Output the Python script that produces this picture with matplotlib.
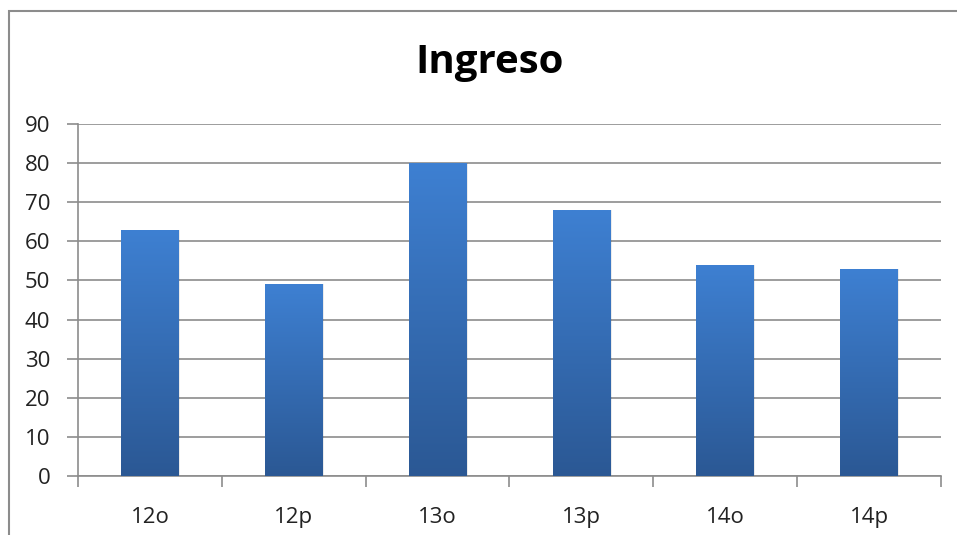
import numpy as np
import matplotlib
matplotlib.use("Agg")
from matplotlib import pyplot as plt
from matplotlib.patches import Rectangle
from matplotlib.colors import LinearSegmentedColormap

# Ingreso por periodo
periodos = ['12o', '12p', '13o', '13p', '14o', '14p']
ingreso = [63, 49, 80, 68, 54, 53]
y_ticks = list(range(0, 100, 10))

plt.rcParams['font.family'] = ['Open Sans', 'DejaVu Sans']

fig = plt.figure(figsize=(9.57, 5.35), dpi=100)

# Outer chart border (cropped at right and bottom)
fig.patches.append(Rectangle((9 / 957, -0.05), 1.05, 1 - 11 / 535 + 0.05,
                             transform=fig.transFigure, fill=False,
                             edgecolor='#8c8c8c', linewidth=1.5))

ax = fig.add_axes([78 / 957, 1 - 476 / 535, (941 - 78) / 957, (476 - 124) / 535])

x = np.arange(len(periodos))
bars = ax.bar(x, ingreso, width=0.40, color='none', zorder=3)

# Vertical gradient fill for each bar
grad_cmap = LinearSegmentedColormap.from_list('azul', ['#2b5894', '#3e80d2'])
grad = np.linspace(0, 1, 256).reshape(-1, 1)
for b in bars:
    x0, y0 = b.get_x(), b.get_y()
    w, h = b.get_width(), b.get_height()
    # soft shadow on the right side
    ax.add_patch(Rectangle((x0 + 0.01, y0), w, h, facecolor='#000000',
                           alpha=0.08, edgecolor='none', zorder=2))
    im = ax.imshow(grad, cmap=grad_cmap, aspect='auto', origin='lower',
                   extent=(x0, x0 + w, y0, y0 + h), zorder=3)
    im.set_clip_path(b)

ax.set_xlim(-0.5, len(periodos) - 0.5)
ax.set_ylim(0, 90)
ax.set_yticks(y_ticks)
ax.set_yticklabels([str(v) for v in y_ticks])
ax.yaxis.grid(True, color='#8c8c8c', linewidth=1.2, zorder=0)
ax.set_axisbelow(True)

# Category labels centered, tick marks on the boundaries
ax.set_xticks(x)
ax.set_xticklabels(periodos)
ax.set_xticks(np.arange(len(periodos) + 1) - 0.5, minor=True)
ax.tick_params(axis='x', which='major', length=0, pad=22, labelsize=16, labelcolor='#222222')
ax.tick_params(axis='x', which='minor', length=8, color='#8c8c8c', width=1.2, direction='out')
ax.tick_params(axis='y', length=8, color='#8c8c8c', width=1.2, labelsize=16,
               labelcolor='#222222', pad=12)

for side in ['top', 'right']:
    ax.spines[side].set_visible(False)
for side in ['left', 'bottom']:
    ax.spines[side].set_color('#8c8c8c')
    ax.spines[side].set_linewidth(1.2)

fig.text(490 / 957, 1 - 62 / 535, 'Ingreso', ha='center', va='center',
         fontsize=29, fontweight='bold', color='#000000')

fig.savefig('out.png', dpi=100)
